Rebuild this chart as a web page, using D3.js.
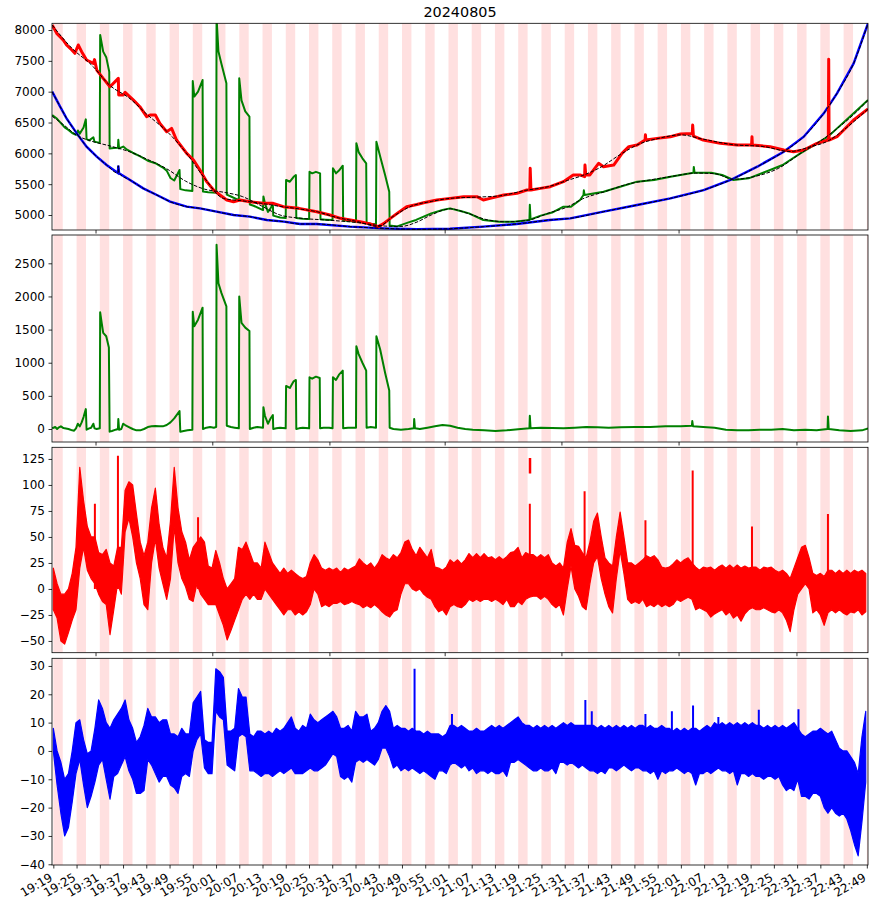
<!DOCTYPE html>
<html>
<head>
<meta charset="utf-8">
<script src="https://cdn.jsdelivr.net/npm/d3@7/dist/d3.min.js"></script>
<style>
body { margin: 0; background: #fff; }
text { font-family: "DejaVu Sans", sans-serif; fill: #000; }
</style>
</head>
<body>
<svg width="869" height="912"></svg>
<script>
// x is the sample number (about one per minute); some samples carry a time label
var tickSamples = [0,6.15,12.3,18.45,24.6,30.76,36.91,43.06,49.21,55.36,61.51,67.66,73.81,79.97,86.12,92.27,98.42,104.57,110.72,116.87,123.02,129.18,135.33,141.48,147.63,153.78,159.93,166.08,172.23,178.38,184.54,190.69,196.84,202.99,209.14,215.29];
var tickLabels = ["19:19","19:25","19:31","19:37","19:43","19:49","19:55","20:01","20:07","20:13","20:19","20:25","20:31","20:37","20:43","20:49","20:55","21:01","21:07","21:13","21:19","21:25","21:31","21:37","21:43","21:49","21:55","22:01","22:07","22:13","22:19","22:25","22:31","22:37","22:43","22:49"];
var upperTickSamples = [11.3, 42.2, 73.2, 103.7, 134.6, 165.6, 196.8];
var bandLength = 2.5;

// panel 1: raw series [sample, value]
var redRaw = [[-0.3,8081],[0.9,7946],[2.6,7838],[3.5,7757],[4.9,7676],[5.7,7622],[6.6,7757],[7.5,7649],[8.8,7514],[10.6,7459],[10.9,7520],[11.5,7351],[13.2,7216],[15,7081],[17.2,7216],[17.3,6946],[18.5,6946],[19,6990],[21.2,6865],[22.9,6757],[24.7,6595],[25.6,6622],[27,6622],[28.2,6486],[30,6351],[31.3,6405],[32.6,6216],[35.3,6000],[37.1,5892],[38.8,5730],[40.6,5541],[42.4,5405],[44.1,5324],[45.9,5243],[47.7,5216],[49.4,5243],[52,5216],[55.6,5189],[58.2,5189],[60.9,5135],[65,5108],[69.7,5054],[73.2,5000],[76,4946],[78.6,4919],[81.2,4892],[83.9,4854],[86,4811],[87.4,4860],[89.2,4946],[91,5027],[93.5,5135],[96.2,5170],[98,5200],[101.5,5243],[105,5270],[108.6,5297],[112.1,5297],[113.8,5243],[115.6,5270],[119.2,5324],[122.7,5351],[125.3,5405],[126.1,5405],[126.2,5757],[126.4,5405],[128.9,5432],[131.5,5459],[135,5541],[137.6,5649],[139.4,5650],[140.6,5622],[140.7,5811],[140.9,5650],[142,5650],[144.3,5838],[145.6,5784],[148.3,5811],[150.5,6000],[152.3,6108],[154.5,6135],[156.6,6216],[156.7,6300],[156.8,6216],[159.8,6243],[163.3,6270],[166,6313],[169.1,6320],[169.2,6459],[169.4,6280],[172,6216],[176.5,6162],[181,6135],[184.8,6135],[184.9,6270],[185,6135],[189.7,6108],[193.3,6054],[195.9,6027],[198.6,6054],[202.1,6162],[205.1,6216],[205.2,7524],[205.3,6216],[207.4,6270],[211.8,6541],[215.6,6720]];
var redTrend = [[-0.3,8081],[5,7700],[10,7440],[15,7100],[20,6900],[25,6620],[30,6360],[35,6020],[40,5600],[45,5270],[50,5230],[55,5190],[60,5140],[65,5100],[70,5050],[75,4960],[80,4900],[86,4815],[90,4980],[95,5150],[100,5220],[105,5270],[112,5290],[118,5310],[125,5400],[131,5460],[136,5560],[140,5640],[145,5780],[150,5980],[155,6150],[160,6240],[166,6300],[172,6230],[180,6140],[188,6110],[195,6030],[200,6100],[205,6200],[210,6420],[215.6,6720]];
var greenRaw = [[-0.3,6622],[1,6560],[2,6490],[3,6420],[4,6380],[5,6330],[6,6300],[6.5,6370],[7,6320],[8,6420],[8.6,6551],[8.8,6230],[9.5,6210],[10.6,6260],[10.9,6190],[12.3,6170],[12.4,7919],[13.2,7650],[14,7560],[14.8,7324],[14.9,6080],[16,6085],[17.1,6090],[17.2,6220],[17.4,6080],[18.5,6110],[19.5,6060],[21,6010],[23,5950],[25,5880],[27,5840],[29,5770],[30,5720],[31,5600],[32,5560],[33.4,5730],[33.6,5420],[35,5400],[36.8,5390],[36.9,7173],[37.3,6920],[38.3,7000],[39.5,7189],[39.6,5380],[41,5370],[43.1,5360],[43.2,8200],[43.7,7650],[44.5,7450],[45.8,7135],[45.9,5330],[47,5300],[49.1,5240],[49.2,7216],[49.8,6860],[50.8,6680],[51.9,6595],[52,5170],[53,5150],[55.5,5080],[55.6,5300],[56,5190],[56.8,5050],[57.4,5100],[58.1,5180],[58.2,4990],[60,4960],[61.5,4950],[61.6,5568],[62.6,5540],[63.6,5620],[64.2,5649],[64.3,4950],[66,4940],[67.7,4935],[67.8,5700],[68.5,5676],[69.5,5700],[70.6,5676],[70.7,4930],[72,4925],[73.9,4920],[74,5757],[74.8,5676],[75.6,5720],[76.6,5800],[76.7,4910],[78,4905],[80.1,4890],[80.2,6162],[80.8,6020],[81.8,5920],[82.8,5838],[82.9,4875],[84,4860],[85.4,4850],[85.5,6189],[86.5,5950],[87.8,5650],[88.9,5378],[89,4830],[91,4815],[94,4880],[96,4920],[100,5027],[103,5080],[105,5108],[108,5060],[110,5027],[113.8,4919],[118,4892],[122,4892],[126,4920],[126.1,5165],[126.3,4930],[129,4990],[132,5040],[135,5135],[137,5135],[139.4,5243],[140.3,5324],[140.4,5400],[140.6,5324],[145.6,5378],[150,5459],[154.5,5541],[159,5568],[163.3,5622],[169.4,5686],[169.5,5780],[169.7,5686],[174.1,5686],[177,5649],[180,5568],[184,5595],[189.7,5730],[193,5811],[197.7,6000],[202.1,6162],[205,6270],[207.4,6405],[211.8,6649],[215.6,6865]];
var greenTrend = [[-0.3,6600],[3,6450],[6,6300],[10,6200],[15,6120],[20,6030],[25,5900],[30,5750],[35,5550],[40,5420],[45,5370],[50,5300],[55,5150],[60,5000],[65,4950],[72,4920],[80,4880],[88,4820],[92,4815],[96,4880],[100,5000],[105,5100],[110,5020],[115,4920],[120,4890],[126,4920],[131,5030],[136,5130],[140,5260],[146,5380],[152,5500],[158,5570],[164,5630],[170,5680],[175,5670],[180,5580],[186,5630],[192,5760],[198,6010],[203,6200],[208,6430],[212,6640],[215.6,6860]];
var blueRaw = [[-0.3,7000],[1.8,6757],[3.5,6568],[6.2,6324],[8.8,6108],[11.5,5946],[14.1,5811],[17.1,5680],[17.2,5800],[17.4,5676],[20.3,5568],[23.8,5432],[27.4,5324],[30.9,5216],[35.3,5135],[38.8,5108],[43.2,5054],[47.7,5000],[52,4973],[56.5,4919],[61,4892],[65.3,4854],[69.7,4854],[78.5,4811],[87.4,4784],[96.2,4768],[105,4778],[113.8,4811],[122.6,4854],[131.4,4919],[136.8,4946],[145.6,5054],[154.5,5162],[163.3,5270],[172.1,5405],[179.2,5568],[186.3,5784],[193.3,6027],[198.6,6270],[203.9,6649],[207.4,6973],[211.8,7459],[215.6,8108]];

// panel 2: green minus its trend
var greenDev = [[-0.3,10],[0.5,30],[1,0],[1.5,25],[2,40],[2.5,20],[3,10],[4,0],[5,-20],[5.5,-25],[6,10],[6.5,80],[7,40],[7.5,100],[8,180],[8.6,300],[8.8,-10],[9.5,10],[10,20],[10.6,80],[10.9,10],[11.5,0],[12.3,10],[12.4,1760],[12.8,1600],[13.2,1450],[14,1400],[14.7,1230],[14.9,-40],[15.5,-30],[16.5,-10],[17.1,0],[17.2,150],[17.4,-10],[18,0],[18.5,80],[19,60],[20,30],[21,0],[22,-20],[23,-20],[24,0],[25,30],[26,40],[27,45],[28,40],[29,40],[30,60],[31,100],[32,160],[33.4,270],[33.6,-40],[34.5,-30],[35.5,-20],[36.8,-10],[36.9,1770],[37.3,1550],[38.3,1650],[39.5,1830],[39.6,0],[40.5,20],[41.5,30],[42.5,20],[43.1,30],[43.2,2780],[43.7,2200],[44.5,2050],[45.8,1850],[45.9,50],[47,30],[48,20],[49.1,10],[49.2,2000],[49.8,1600],[50.8,1530],[51.9,1480],[52,0],[53,20],[54,30],[55.5,20],[55.6,330],[56,200],[56.8,80],[57.4,150],[58.1,210],[58.2,0],[59,10],[60,20],[61.5,10],[61.6,650],[62.6,620],[63.6,720],[64.2,740],[64.3,0],[65,10],[66,20],[67.7,10],[67.8,780],[68.5,760],[69.5,790],[70.5,770],[70.6,10],[71.5,20],[73,20],[73.9,10],[74,780],[74.8,740],[75.6,820],[76.6,880],[76.7,10],[78,20],[80.1,20],[80.2,1250],[80.8,1130],[81.8,1000],[82.8,880],[82.9,20],[84,30],[85.4,20],[85.5,1400],[86.5,1200],[87.8,850],[88.9,580],[89,20],[90,0],[92,-10],[94,0],[95.4,10],[95.5,150],[95.7,10],[97,0],[99,20],[101,40],[103,60],[105,50],[107,20],[109,0],[111,-10],[114,-20],[117,-30],[120,-20],[123,-5],[126,10],[126.1,200],[126.3,10],[129,20],[132,15],[135,10],[138,20],[141,30],[144,25],[147,20],[150,25],[154,30],[158,30],[162,40],[166,40],[169,50],[169.1,120],[169.3,40],[172,30],[175,20],[178,-10],[181,-20],[184,-20],[187,-10],[190,-10],[193,0],[196,-20],[199,-10],[202,-20],[204.9,0],[205,190],[205.2,0],[208,-20],[211,-30],[214,-20],[215.6,10]];

// panel 3: red residual, upper and lower edge for each sample 0..215
var redHi = [20,5,-5,-5,0,15,40,117,85,60, 50,50,35,33,38,25,22,40,40,95, 103,100,72,45,32,45,78,97,62,40, 30,65,117,78,55,45,28,40,45,50, 45,22,20,37,25,10,0,5,10,40, 38,45,35,25,25,20,45,35,25,20, 15,20,15,18,15,12,10,12,25,33, 28,20,18,20,18,20,16,20,18,20, 22,29,25,22,25,20,25,33,30,28, 33,30,35,45,47,38,32,40,35,30, 38,21,20,18,21,28,25,28,24,28, 34,30,34,30,34,30,31,28,31,28, 31,35,36,40,30,35,33,33,30,33, 30,33,25,22,25,20,45,58,42,41, 35,30,45,65,73,50,30,25,22,50, 74,50,25,25,22,25,28,32,30,32, 28,21,20,21,24,28,25,28,30,25, 21,18,21,20,21,18,21,23,20,23, 20,23,20,22,20,21,21,18,21,20, 21,18,16,18,15,10,20,30,40,42, 30,15,13,15,12,18,18,15,18,15, 18,15,18,16,18,15];
var redLo = [-20,-28,-50,-53,-42,-30,-20,20,40,18, 10,5,-5,-12,-15,-44,-20,5,-5,55, 68,50,25,10,-15,-20,25,48,20,5, -10,10,60,25,10,2,-10,-12,5,-5, -10,-15,-15,-15,-25,-35,-49,-40,-30,-20, -10,-5,-10,-5,-10,-10,0,-5,-10,-15, -20,-25,-20,-20,-25,-22,-25,-22,-15,0, -5,-17,-15,-17,-14,-14,-12,-15,-14,-12, -14,-15,-18,-16,-18,-15,-18,-22,-25,-27, -22,-20,-5,5,5,0,-2,0,-5,-8, -10,-17,-22,-20,-25,-17,-15,-17,-18,-15, -10,-12,-10,-12,-10,-10,-12,-10,-12,-15, -10,-17,-17,-12,-15,-10,-8,-7,-7,-10, -7,-10,-15,-18,-15,-25,0,22,0,-7, -17,-20,5,25,31,10,-5,-17,-23,10, 37,15,-10,-14,-12,-14,-10,-17,-15,-17, -14,-17,-15,-17,-15,-10,-12,-10,-8,-10, -20,-18,-20,-22,-27,-24,-22,-20,-25,-22, -28,-25,-31,-24,-20,-18,-20,-20,-18,-20, -22,-23,-20,-23,-30,-41,-20,-5,0,5, 0,-23,-20,-25,-35,-23,-20,-23,-20,-23, -25,-22,-23,-20,-25,-22];
var redSpikes = [[11,82],[17.1,128],[38.3,69],[126.1,82],[140.6,94],[156.7,66],[169.2,114],[184.9,60],[205,72]];
var redSpikeSegment = [[126.15,111],[126.15,126]];

// panel 4: blue residual
var blueHi = [8,0,-4,-10,-8,0,10,11,4,-1, 0,8,18,15,10,8,11,13,15,18, 11,8,3,5,9,15,12,12,10,11, 11,6,6,5,8,6,6,17,19,21, 4,3,3,29,28,26,7,7,8,22, 19,19,6,5,7,7,6,7,6,8, 7,8,10,12,8,7,9,8,13,11, 10,11,12,13,14,12,8,8,9,7, 14,12,12,13,7,8,10,14,16,14, 8,9,8,8,7,8,7,7,6,7, 6,6,6,5,6,9,9,8,9,8, 7,7,8,7,7,8,9,8,9,8, 9,10,11,12,10,9,9,8,9,8, 9,8,9,8,9,10,9,10,9,9, 9,9,9,9,8,9,8,9,8,9, 8,9,8,9,8,9,9,8,9,8, 8,9,8,8,7,8,7,8,7,8, 8,7,8,9,8,10,9,10,9,10, 9,10,9,10,9,10,9,9,8,9, 8,9,8,9,8,9,10,8,6,5, 6,7,7,8,7,6,7,4,1,0, 0,-2,-4,-8,5,14];
var blueLo = [0,-12,-22,-30,-27,-18,-8,-3,-12,-20, -16,-11,-5,-3,-10,-17,-9,-8,-5,-2, -7,-10,-15,-15,-14,-3,-5,-8,-11,-9, -9,-12,-13,-15,-9,-8,-9,0,4,6, -6,-8,-8,14,12,11,-5,-6,-7,5, 6,5,-7,-7,-8,-9,-8,-8,-9,-8, -7,-8,-7,-6,-8,-8,-8,-7,-6,-7, -7,-6,-5,-3,-1,-2,-9,-10,-9,-11, -4,-3,-4,-3,-4,-5,-3,1,1,-2, -6,-5,-7,-6,-7,-6,-7,-8,-7,-8, -9,-10,-7,-7,-8,-5,-4,-5,-6,-5, -7,-6,-8,-7,-7,-8,-7,-8,-8,-7, -9,-4,-4,-3,-4,-5,-6,-7,-7,-6, -7,-7,-6,-8,-4,-4,-5,-4,-5,-6, -5,-6,-7,-7,-8,-7,-8,-6,-6,-7, -6,-5,-6,-7,-6,-6,-7,-7,-8,-7, -10,-7,-8,-7,-7,-6,-7,-8,-7,-8, -12,-8,-8,-7,-8,-7,-6,-7,-7,-8, -7,-12,-8,-8,-9,-8,-9,-9,-10,-9, -9,-10,-9,-12,-14,-13,-14,-10,-16,-16, -17,-15,-15,-16,-20,-22,-20,-22,-23,-22, -24,-28,-33,-37,-25,-11];
var blueSpikes = [[95.6,29],[105.5,13],[140.8,18],[142.5,14],[156.7,13],[163.7,14],[169.3,16],[176,12],[186.7,14.5],[197.2,14.7]];

var yTicks1 = [5000,5500,6000,6500,7000,7500,8000];
var yTicks2 = [0,500,1000,1500,2000,2500];
var yTicks3 = [-50,-25,0,25,50,75,100,125];
var yTicks4 = [-40,-30,-20,-10,0,10,20,30];

var svg = d3.select("svg"),
    width = +svg.attr("width"),
    height = +svg.attr("height");

var x = d3.scaleLinear().domain([-0.35, 215.6]).range([52, 868]);

var panels = [
    { top: 23.3, bottom: 230, domain: [4757, 8109], ticks: yTicks1 },
    { top: 235, bottom: 442, domain: [-196, 2927], ticks: yTicks2 },
    { top: 447.3, bottom: 652.7, domain: [-61.3, 136.2], ticks: yTicks3 },
    { top: 658.3, bottom: 865, domain: [-40.25, 32.7], ticks: yTicks4 }
];

var minus = function (d) { return d < 0 ? "\u2212" + Math.abs(d) : String(d); };

panels.forEach(function (p, i) {
    p.y = d3.scaleLinear().domain(p.domain).range([p.bottom, p.top]);
    svg.append("clipPath").attr("id", "clip" + i)
        .append("rect")
        .attr("x", x.range()[0]).attr("y", p.top)
        .attr("width", x.range()[1] - x.range()[0])
        .attr("height", p.bottom - p.top);
    p.g = svg.append("g").attr("clip-path", "url(#clip" + i + ")");

    // pink bands, one per labelled sample
    p.g.selectAll("rect.band")
        .data(tickSamples).enter()
        .append("rect")
        .attr("class", "band")
        .attr("x", function (d) { return x(d); })
        .attr("width", function (d) { return x(d + bandLength) - x(d); })
        .attr("y", p.top)
        .attr("height", p.bottom - p.top)
        .attr("fill", "#ff0000")
        .attr("fill-opacity", 0.12);
});

function lineFor(p) {
    return d3.line().x(function (d) { return x(d[0]); }).y(function (d) { return p.y(d[1]); });
}

// panel 1
var p1 = panels[0], l1 = lineFor(p1);
p1.g.append("path").datum(greenRaw).attr("d", l1)
    .attr("fill", "none").attr("stroke", "#008000").attr("stroke-width", 2).attr("stroke-linejoin", "round");
p1.g.append("path").datum(blueRaw).attr("d", l1)
    .attr("fill", "none").attr("stroke", "#0000ff").attr("stroke-width", 2.4);
p1.g.append("path").datum(redRaw).attr("d", l1)
    .attr("fill", "none").attr("stroke", "#ff0000").attr("stroke-width", 3).attr("stroke-linejoin", "round");
var trendLine = lineFor(p1).curve(d3.curveMonotoneX);
[redTrend, greenTrend, blueRaw].forEach(function (s) {
    p1.g.append("path").datum(s).attr("d", trendLine)
        .attr("fill", "none").attr("stroke", "#000").attr("stroke-width", 1)
        .attr("stroke-dasharray", "3.7,1.6");
});

// panel 2
var p2 = panels[1];
p2.g.append("path").datum(greenDev).attr("d", lineFor(p2))
    .attr("fill", "none").attr("stroke", "#008000").attr("stroke-width", 2).attr("stroke-linejoin", "round");

// panels 3 and 4: noisy residual bands
function band(p, hi, lo, spikes, color) {
    var idx = d3.range(hi.length);
    var area = d3.area()
        .x(function (i) { return x(i); })
        .y0(function (i) { return p.y(lo[i]); })
        .y1(function (i) { return p.y(hi[i]); });
    p.g.append("path").datum(idx).attr("d", area)
        .attr("fill", color).attr("stroke", color).attr("stroke-width", 1.2).attr("stroke-linejoin", "round");
    p.g.selectAll("line.spike").data(spikes).enter()
        .append("line")
        .attr("x1", function (d) { return x(d[0]); })
        .attr("x2", function (d) { return x(d[0]); })
        .attr("y1", p.y(0))
        .attr("y2", function (d) { return p.y(d[1]); })
        .attr("stroke", color).attr("stroke-width", 2);
}
band(panels[2], redHi, redLo, redSpikes, "#ff0000");
panels[2].g.append("path").datum(redSpikeSegment).attr("d", lineFor(panels[2]))
    .attr("stroke", "#ff0000").attr("stroke-width", 2.5).attr("fill", "none");
band(panels[3], blueHi, blueLo, blueSpikes, "#0000ff");

// axes and spines
panels.forEach(function (p, i) {
    var ax = svg.append("g").attr("transform", "translate(" + x.range()[0] + ",0)")
        .call(d3.axisLeft(p.y).tickValues(p.ticks).tickFormat(minus).tickSize(3.5).tickPadding(3.5));
    ax.select(".domain").remove();
    ax.selectAll("line").attr("stroke", "#000").attr("stroke-width", 0.8);
    ax.selectAll("text").attr("font-size", "12px").attr("font-family", "DejaVu Sans, sans-serif").attr("fill", "#000");

    if (i < 3) {
        svg.append("g").selectAll("line")
            .data(upperTickSamples).enter()
            .append("line")
            .attr("x1", function (d) { return x(d); })
            .attr("x2", function (d) { return x(d); })
            .attr("y1", p.bottom).attr("y2", p.bottom + 3.5)
            .attr("stroke", "#000").attr("stroke-width", 0.8);
    }

    svg.append("rect")
        .attr("x", x.range()[0]).attr("y", p.top)
        .attr("width", x.range()[1] - x.range()[0])
        .attr("height", p.bottom - p.top)
        .attr("fill", "none").attr("stroke", "#000").attr("stroke-width", 0.8);
});

var pb = panels[3];
var xAxis = svg.append("g").attr("transform", "translate(0," + pb.bottom + ")")
    .call(d3.axisBottom(x).tickValues(tickSamples)
        .tickFormat(function (d, i) { return tickLabels[i]; })
        .tickSize(3.5).tickPadding(3.5));
xAxis.select(".domain").remove();
xAxis.selectAll("line").attr("stroke", "#000").attr("stroke-width", 0.8);
xAxis.selectAll("text")
    .attr("font-size", "12px").attr("font-family", "DejaVu Sans, sans-serif").attr("fill", "#000")
    .attr("text-anchor", "end")
    .attr("x", 0).attr("y", 0).attr("dy", "0.76em")
    .attr("transform", "translate(-5,7) rotate(-30)");

svg.append("text")
    .attr("x", (x.range()[0] + x.range()[1]) / 2)
    .attr("y", 17)
    .attr("text-anchor", "middle")
    .attr("font-size", "14.4px")
    .text("20240805");
</script>
</body>
</html>
